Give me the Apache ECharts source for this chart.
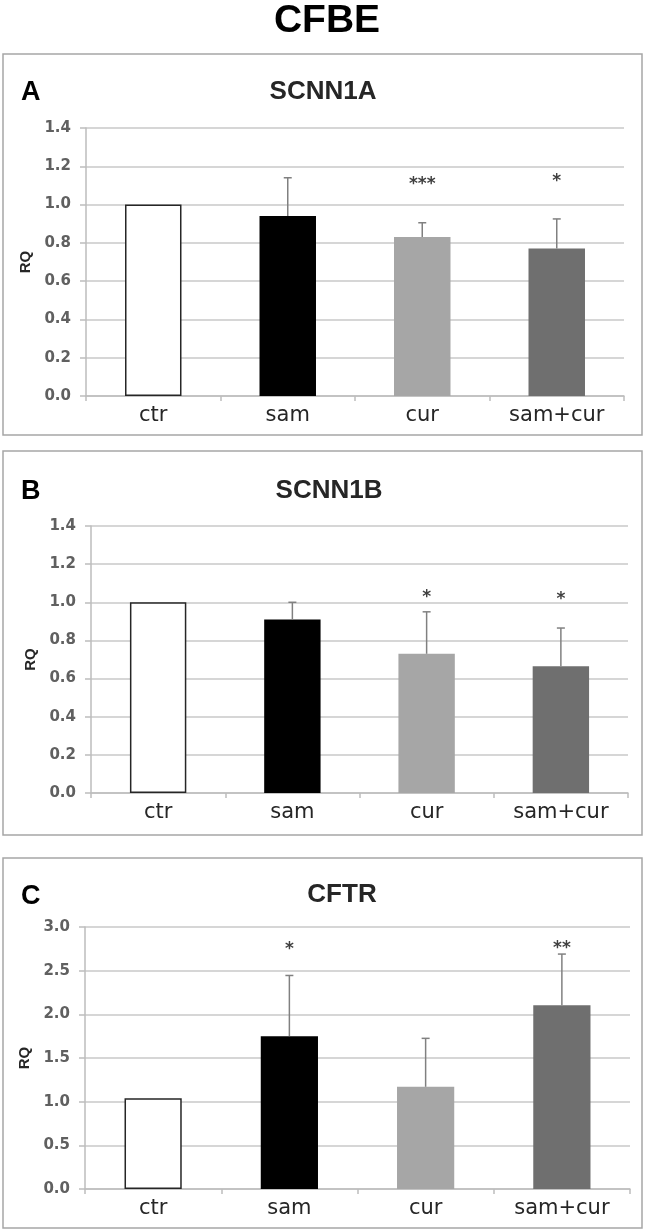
<!DOCTYPE html>
<html><head><meta charset="utf-8">
<script src="https://cdn.jsdelivr.net/npm/echarts@6/dist/echarts.min.js"></script>
<style>html,body{margin:0;padding:0;background:#fff}#c{width:645px;height:1232px}</style>
</head><body><div id="c"></div>
<script>
// ---- data ----
const categories = ['ctr', 'sam', 'cur', 'sam+cur'];

const scnn1aMean = [1.00, 0.94, 0.83, 0.77];
const scnn1aSD   = [0, 0.20, 0.075, 0.155];
const scnn1aStars = ['', '', '***', '*'];
const scnn1aStarY = [null, null, 1.127, 1.14];

const scnn1bMean = [1.00, 0.91, 0.73, 0.665];
const scnn1bSD   = [0, 0.09, 0.22, 0.20];
const scnn1bStars = ['', '', '*', '*'];
const scnn1bStarY = [null, null, 1.047, 1.035];

const cftrMean = [1.04, 1.75, 1.17, 2.105];
const cftrSD   = [0, 0.695, 0.555, 0.585];
const cftrStars = ['', '*', '', '**'];
const cftrStarY = [null, 2.79, null, 2.80];

// ---- styles ----
const barColors = ['#ffffff', '#000000', '#a6a6a6', '#6f6f6f'];
const panels = [
  { letter: 'A', title: 'SCNN1A', mean: scnn1aMean, sd: scnn1aSD, stars: scnn1aStars, starY: scnn1aStarY,
    max: 1.4, interval: 0.2, grid: { left: 86, top: 128, width: 538, height: 268 },
    box: [3, 54, 639, 381], letterTop: 74, titleX: 318, titleTop: 74 },
  { letter: 'B', title: 'SCNN1B', mean: scnn1bMean, sd: scnn1bSD, stars: scnn1bStars, starY: scnn1bStarY,
    max: 1.4, interval: 0.2, grid: { left: 91, top: 526, width: 537, height: 267 },
    box: [3, 451, 639, 384], letterTop: 473, titleX: 324, titleTop: 473 },
  { letter: 'C', title: 'CFTR', mean: cftrMean, sd: cftrSD, stars: cftrStars, starY: cftrStarY,
    max: 3.0, interval: 0.5, grid: { left: 85, top: 927, width: 545, height: 262 },
    box: [3, 858, 639, 370], letterTop: 878, titleX: 337, titleTop: 877 }
];

const gridColor = '#c8c8c8';
const axisColor = '#bdbdbd';

const option = {
  backgroundColor: '#ffffff',
  animation: false,
  title: [{ text: 'CFBE', left: 322, top: -3, textAlign: 'center',
    textStyle: { fontFamily: 'Liberation Sans', fontWeight: 'bold', fontSize: 39, color: '#000' } }],
  graphic: [],
  grid: [], xAxis: [], yAxis: [], series: []
};

panels.forEach((p, k) => {
  option.graphic.push({ type: 'rect', silent: true, z: -1,
    shape: { x: p.box[0], y: p.box[1], width: p.box[2], height: p.box[3] },
    style: { fill: 'none', stroke: '#a6a6a6', lineWidth: 1.5 } });
  option.title.push({ text: p.letter, left: 16, top: p.letterTop,
    textStyle: { fontFamily: 'Liberation Sans', fontWeight: 'bold', fontSize: 27, color: '#000' } });
  option.title.push({ text: p.title, left: p.titleX, top: p.titleTop, textAlign: 'center',
    textStyle: { fontFamily: 'Liberation Sans', fontWeight: 'bold', fontSize: 26, color: '#262626' } });
  option.grid.push(Object.assign({ containLabel: false }, p.grid));
  option.xAxis.push({ type: 'category', gridIndex: k, data: categories, boundaryGap: true,
    axisLine: { show: true, lineStyle: { color: axisColor, width: 1.5 } },
    axisTick: { show: true, length: 5, lineStyle: { color: axisColor, width: 1.5 } },
    axisLabel: { margin: 9, fontFamily: 'DejaVu Sans', fontSize: 21, color: '#262626' },
    splitLine: { show: false } });
  option.yAxis.push({ type: 'value', gridIndex: k, min: 0, max: p.max, interval: p.interval,
    name: 'RQ', nameLocation: 'middle', nameGap: 50,
    nameTextStyle: { fontFamily: 'Liberation Sans', fontWeight: 'bold', fontSize: 15, color: '#262626' },
    axisLine: { show: true, lineStyle: { color: axisColor, width: 1.5 } },
    axisTick: { show: true, length: 6, lineStyle: { color: axisColor, width: 1.5 } },
    axisLabel: { margin: 15, fontFamily: 'DejaVu Sans', fontWeight: 'bold', fontSize: 15, color: '#606060',
      formatter: v => v.toFixed(1) },
    splitLine: { show: true, lineStyle: { color: gridColor, width: 1.5 } } });
  option.series.push({ type: 'bar', xAxisIndex: k, yAxisIndex: k, barWidth: '42%', z: 2,
    data: p.mean.map((v, i) => ({ value: v, itemStyle: {
      color: barColors[i], borderColor: i === 0 ? '#262626' : barColors[i], borderWidth: i === 0 ? 1.5 : 0 } })) });
  option.series.push({ type: 'custom', xAxisIndex: k, yAxisIndex: k, z: 3,
    data: p.mean.map((v, i) => [i, v, p.sd[i]]),
    encode: { x: 0, y: 1 },
    renderItem: (params, api) => {
      const i = api.value(0), m = api.value(1), s = api.value(2);
      if (!s) return null;
      const a = api.coord([i, m]), b = api.coord([i, m + s]);
      const st = { stroke: '#808080', lineWidth: 1.5 };
      return { type: 'group', children: [
        { type: 'line', shape: { x1: a[0], y1: a[1], x2: b[0], y2: b[1] }, style: st },
        { type: 'line', shape: { x1: b[0] - 4, y1: b[1], x2: b[0] + 4, y2: b[1] }, style: st }
      ] };
    } });
  option.series.push({ type: 'custom', xAxisIndex: k, yAxisIndex: k, z: 4,
    data: p.stars.map((t, i) => [i, p.starY[i], t]).filter(d => d[2]),
    encode: { x: 0, y: 1 },
    renderItem: (params, api) => {
      const pt = api.coord([api.value(0), api.value(1)]);
      return { type: 'text', style: { x: pt[0], y: pt[1] + 4, text: p.stars[api.value(0)],
        textAlign: 'center', textVerticalAlign: 'middle',
        font: 'bold 17px "DejaVu Sans"', fill: '#404040' } };
    } });
});

const chart = echarts.init(document.getElementById('c'), null, { renderer: 'canvas' });
chart.setOption(option);
</script>
</body></html>
